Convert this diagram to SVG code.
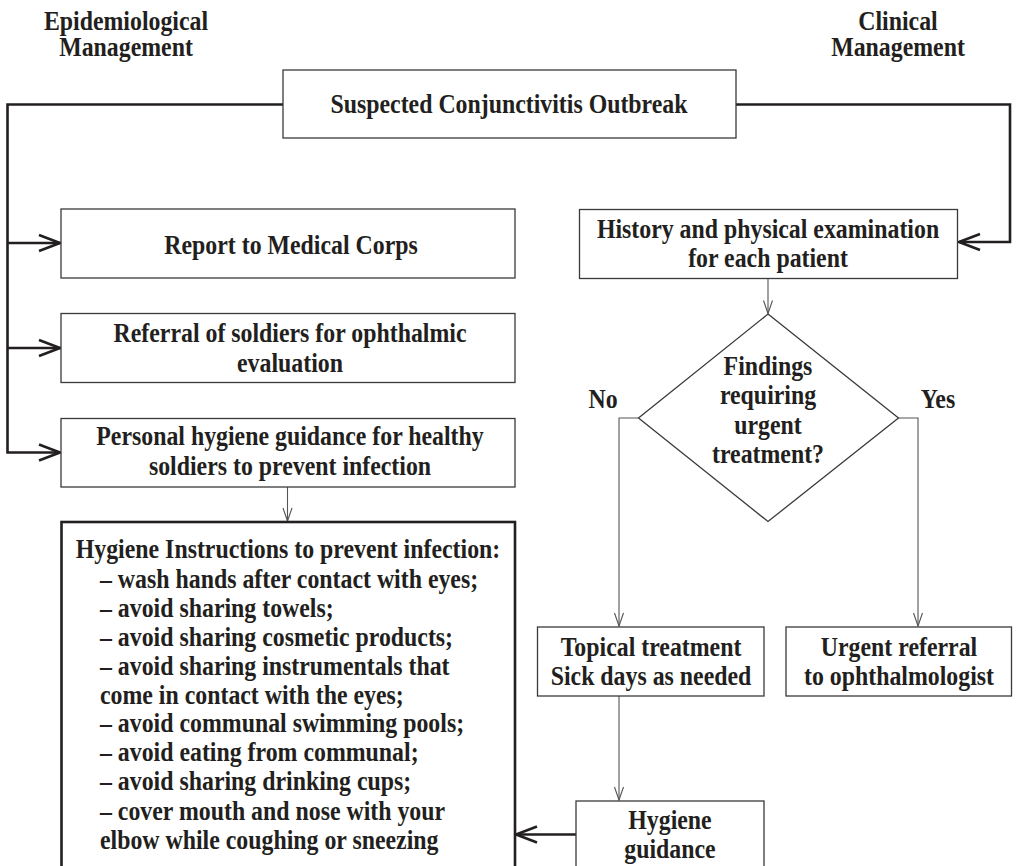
<svg xmlns="http://www.w3.org/2000/svg" width="1018" height="866" viewBox="0 0 1018 866">
<style>
  .t { font-family: "Liberation Serif", "Times New Roman", serif; font-weight: bold; font-size: 26.5px; fill: #231f20; }
  .m { text-anchor: middle; }
  .box { fill: #ffffff; stroke: #3a3a3a; stroke-width: 1.3; }
  .thickbox { fill: #ffffff; stroke: #231f20; stroke-width: 2.6; }
  .thick { fill: none; stroke: #231f20; stroke-width: 2.6; }
  .thin { fill: none; stroke: #555555; stroke-width: 1.1; }
</style>
<defs>
  <marker id="bigArrow" markerUnits="userSpaceOnUse" markerWidth="30" markerHeight="24" refX="0" refY="0" viewBox="-24 -12 28 24" orient="auto" overflow="visible">
    <path d="M-21,-8 L0,0 L-21,8" fill="none" stroke="#231f20" stroke-width="2.6"/>
  </marker>
  <marker id="smallArrow" markerUnits="userSpaceOnUse" markerWidth="20" markerHeight="14" refX="0" refY="0" viewBox="-16 -7 18 14" orient="auto" overflow="visible">
    <path d="M-13,-4.5 L0,0 L-13,4.5" fill="none" stroke="#555555" stroke-width="1.1"/>
  </marker>
</defs>
<rect x="0" y="0" width="1018" height="866" fill="#ffffff"/>

<g id="header-epi">
  <text class="t m" transform="translate(126,30) scale(0.9,1)">Epidemiological</text>
  <text class="t m" transform="translate(126,56) scale(0.9,1)">Management</text>
</g>
<g id="header-clinical">
  <text class="t m" transform="translate(898,30) scale(0.9,1)">Clinical</text>
  <text class="t m" transform="translate(898,56) scale(0.9,1)">Management</text>
</g>

<g id="connectors">
  <path class="thick" d="M283,104.5 H7.5 V452.5 H60" marker-end="url(#bigArrow)"/>
  <path class="thick" d="M7.5,243 H60" marker-end="url(#bigArrow)"/>
  <path class="thick" d="M7.5,348 H60" marker-end="url(#bigArrow)"/>
  <path class="thick" d="M736,104.5 H1010 V242 H959" marker-end="url(#bigArrow)"/>
  <path class="thick" d="M576,834.5 H516" marker-end="url(#bigArrow)"/>
  <path class="thin" d="M287.5,487 V521" marker-end="url(#smallArrow)"/>
  <path class="thin" d="M768,279 V313.5" marker-end="url(#smallArrow)"/>
  <path class="thin" d="M638.5,418 H619 V626" marker-end="url(#smallArrow)"/>
  <path class="thin" d="M898,418 H918 V626" marker-end="url(#smallArrow)"/>
  <path class="thin" d="M619,696 V800" marker-end="url(#smallArrow)"/>
</g>

<g id="suspected">
  <rect class="box" x="283" y="70" width="453" height="68"/>
  <text class="t m" transform="translate(509,113) scale(0.9,1)">Suspected Conjunctivitis Outbreak</text>
</g>

<g id="report">
  <rect class="box" x="61" y="209" width="454" height="69"/>
  <text class="t m" transform="translate(291,254) scale(0.9,1)">Report to Medical Corps</text>
</g>

<g id="referral">
  <rect class="box" x="61" y="313.5" width="454" height="69"/>
  <text class="t m" transform="translate(290,341.5) scale(0.9,1)">Referral of soldiers for ophthalmic</text>
  <text class="t m" transform="translate(290,371.5) scale(0.9,1)">evaluation</text>
</g>

<g id="personal">
  <rect class="box" x="61" y="418.5" width="454" height="68.5"/>
  <text class="t m" transform="translate(290,445) scale(0.9,1)">Personal hygiene guidance for healthy</text>
  <text class="t m" transform="translate(290,475) scale(0.9,1)">soldiers to prevent infection</text>
</g>

<g id="instructions">
  <rect class="thickbox" x="61.5" y="522" width="453.5" height="360"/>
  <text class="t m" transform="translate(288,557.5) scale(0.9,1)">Hygiene Instructions to prevent infection:</text>
  <g transform="translate(100,0) scale(0.9,1)">
    <text class="t" x="0" y="588">– wash hands after contact with eyes;</text>
    <text class="t" x="0" y="617">– avoid sharing towels;</text>
    <text class="t" x="0" y="646">– avoid sharing cosmetic products;</text>
    <text class="t" x="0" y="675">– avoid sharing instrumentals that</text>
    <text class="t" x="0" y="703.5">come in contact with the eyes;</text>
    <text class="t" x="0" y="732.5">– avoid communal swimming pools;</text>
    <text class="t" x="0" y="761.5">– avoid eating from communal;</text>
    <text class="t" x="0" y="790.5">– avoid sharing drinking cups;</text>
    <text class="t" x="0" y="820">– cover mouth and nose with your</text>
    <text class="t" x="0" y="849.5">elbow while coughing or sneezing</text>
  </g>
</g>

<g id="history">
  <rect class="box" x="579.5" y="209.5" width="378" height="69"/>
  <text class="t m" transform="translate(768,238) scale(0.9,1)">History and physical examination</text>
  <text class="t m" transform="translate(768,267) scale(0.9,1)">for each patient</text>
</g>

<g id="decision">
  <polygon class="box" points="768,314 898.5,418 768,521.5 638.5,418"/>
  <text class="t m" transform="translate(768,375) scale(0.9,1)">Findings</text>
  <text class="t m" transform="translate(768,404) scale(0.9,1)">requiring</text>
  <text class="t m" transform="translate(768,434) scale(0.9,1)">urgent</text>
  <text class="t m" transform="translate(768,463) scale(0.9,1)">treatment?</text>
</g>

<g id="label-no">
  <text class="t m" transform="translate(603,408) scale(0.9,1)">No</text>
</g>
<g id="label-yes">
  <text class="t m" transform="translate(938,408) scale(0.9,1)">Yes</text>
</g>

<g id="topical">
  <rect class="box" x="537.5" y="627" width="226.5" height="69"/>
  <text class="t m" transform="translate(651,656) scale(0.9,1)">Topical treatment</text>
  <text class="t m" transform="translate(651,685) scale(0.9,1)">Sick days as needed</text>
</g>

<g id="urgent">
  <rect class="box" x="786" y="627" width="225.5" height="69"/>
  <text class="t m" transform="translate(899,656) scale(0.9,1)">Urgent referral</text>
  <text class="t m" transform="translate(899,685) scale(0.9,1)">to ophthalmologist</text>
</g>

<g id="hygiene-guidance">
  <rect class="box" x="576" y="801" width="188" height="80"/>
  <text class="t m" transform="translate(670,829) scale(0.9,1)">Hygiene</text>
  <text class="t m" transform="translate(670,858) scale(0.9,1)">guidance</text>
</g>
</svg>
